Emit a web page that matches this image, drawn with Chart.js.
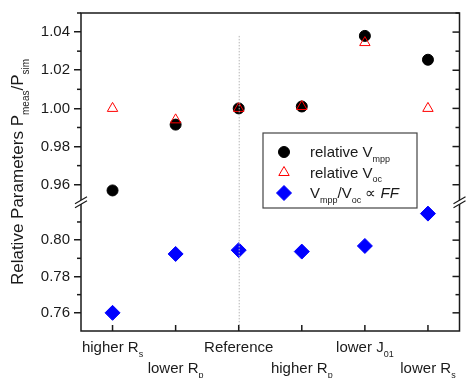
<!DOCTYPE html>
<html>
<head>
<meta charset="utf-8">
<script src="https://cdn.jsdelivr.net/npm/chart.js@4.4.1/dist/chart.umd.min.js"></script>
<style>
  html, body { margin: 0; padding: 0; background: #fff; }
  #wrap { width: 468px; height: 378px; position: relative; }
</style>
</head>
<body>
<div id="wrap"><canvas id="chart"></canvas></div>
<script>
// --- data ---
const categories = ['higher R_{s}', 'lower R_{p}', 'Reference', 'higher R_{p}', 'lower J_{01}', 'lower R_{s}'];
const relVmpp = [0.957, 0.9915, 1.000, 1.001, 1.038, 1.0255];
const relVoc  = [1.000, 0.994, 1.000, 1.001, 1.0345, 1.000];
const ffRatio = [0.760, 0.7924, 0.7945, 0.7937, 0.7968, 0.8146];
const upperTicks = [0.96, 0.98, 1.00, 1.02, 1.04];
const upperMinor = [0.95, 0.97, 0.99, 1.01, 1.03, 1.05];
const lowerTicks = [0.76, 0.78, 0.80];
const lowerMinor = [0.77, 0.79, 0.81];
const seriesNames = ['relative V_{mpp}', 'relative V_{oc}', 'V_{mpp}/V_{oc} \u221D *FF*'];
const yTitle = 'Relative Parameters P_{meas}/P_{sim}';
const refLineTop = 1.038;

const FONT = "'Liberation Sans', Arial, sans-serif";
const INK = '#1a1a1a';

// tiny markup: _{sub}  *italic*
function parseRich(str) {
    const out = [];
    const re = /_\{([^}]*)\}|\*([^*]*)\*|([^_*]+)/g;
    let m;
    while ((m = re.exec(str))) {
        if (m[1] !== undefined) out.push({ t: m[1], s: 'sub' });
        else if (m[2] !== undefined) out.push({ t: m[2], s: 'it' });
        else out.push({ t: m[3], s: '' });
    }
    return out;
}

function partFont(p, size) {
    if (p.s === 'sub') return Math.round(size * 0.6) + 'px ' + FONT;
    if (p.s === 'it') return 'italic ' + size + 'px ' + FONT;
    return size + 'px ' + FONT;
}

function richWidth(ctx, parts, size) {
    let w = 0;
    parts.forEach(p => { ctx.font = partFont(p, size); w += ctx.measureText(p.t).width; });
    return w;
}

function drawRich(ctx, str, x, y, size, align) {
    const parts = parseRich(str);
    const w = richWidth(ctx, parts, size);
    let cx = align === 'center' ? x - w / 2 : x;
    ctx.textBaseline = 'alphabetic';
    ctx.textAlign = 'left';
    parts.forEach(p => {
        ctx.font = partFont(p, size);
        const dy = p.s === 'sub' ? size * 0.33 : 0;
        ctx.fillText(p.t, cx, y + dy);
        cx += ctx.measureText(p.t).width;
    });
}

const decor = {
    id: 'decor',
    afterDatasetsDraw(chart) {
        // dotted reference line
        const { ctx, chartArea, scales } = chart;
        const x = scales.x.getPixelForValue(2);
        ctx.save();
        ctx.strokeStyle = '#b5b5b5';
        ctx.lineWidth = 1;
        ctx.setLineDash([1.5, 1.5]);
        ctx.beginPath();
        ctx.moveTo(x + 0.5, scales.y.getPixelForValue(refLineTop));
        ctx.lineTo(x + 0.5, chartArea.bottom);
        ctx.stroke();
        ctx.restore();
    },
    afterDraw(chart) {
        const { ctx, chartArea: a, scales } = chart;
        ctx.save();
        ctx.strokeStyle = INK;
        ctx.fillStyle = INK;
        ctx.lineWidth = 1.5;

        // frame
        ctx.strokeRect(a.left, a.top, a.right - a.left, a.bottom - a.top);

        // ticks: left outward minors, right inward majors + minors
        const tick = (yPix, len, side) => {
            ctx.beginPath();
            if (side === 'L') { ctx.moveTo(a.left - len, yPix); ctx.lineTo(a.left, yPix); }
            else { ctx.moveTo(a.right - len, yPix); ctx.lineTo(a.right, yPix); }
            ctx.stroke();
        };
        upperMinor.forEach(v => { const p = scales.y.getPixelForValue(v); tick(p, 4, 'L'); tick(p, 4, 'R'); });
        lowerMinor.forEach(v => { const p = scales.y2.getPixelForValue(v); tick(p, 4, 'L'); tick(p, 4, 'R'); });
        upperTicks.forEach(v => tick(scales.y.getPixelForValue(v), 7, 'R'));
        lowerTicks.forEach(v => tick(scales.y2.getPixelForValue(v), 7, 'R'));

        // bottom ticks inward + x labels staggered
        ctx.fillStyle = INK;
        categories.forEach((c, i) => {
            const xp = scales.x.getPixelForValue(i);
            ctx.beginPath();
            ctx.moveTo(xp, a.bottom);
            ctx.lineTo(xp, a.bottom - 6);
            ctx.stroke();
            drawRich(ctx, c, xp, i % 2 === 0 ? a.bottom + 21 : a.bottom + 42, 15, 'center');
        });

        // axis break marks
        const yb = scales.y.bottom;
        [a.left, a.right].forEach(xb => {
            ctx.fillStyle = '#fff';
            ctx.beginPath();
            ctx.moveTo(xb - 6, yb + 4); ctx.lineTo(xb + 6, yb - 3);
            ctx.lineTo(xb + 6, yb - 7); ctx.lineTo(xb - 6, yb);
            ctx.closePath();
            ctx.fill();
            ctx.lineWidth = 1.2;
            ctx.beginPath();
            ctx.moveTo(xb - 6, yb + 4); ctx.lineTo(xb + 6, yb - 3);
            ctx.moveTo(xb - 6, yb); ctx.lineTo(xb + 6, yb - 7);
            ctx.stroke();
        });

        // y title
        ctx.fillStyle = INK;
        ctx.save();
        ctx.translate(23, (a.top + a.bottom) / 2);
        ctx.rotate(-Math.PI / 2);
        drawRich(ctx, yTitle, 0, 0, 17, 'center');
        ctx.restore();

        // legend
        const lx = 263, ly = 133, lw = 154, lh = 75;
        ctx.fillStyle = '#fff';
        ctx.fillRect(lx, ly, lw, lh);
        ctx.strokeStyle = '#444';
        ctx.lineWidth = 1.2;
        ctx.strokeRect(lx, ly, lw, lh);
        chart.data.datasets.forEach((ds, i) => {
            const yy = ly + 19 + i * 20.5;
            ctx.fillStyle = ds.backgroundColor;
            ctx.strokeStyle = ds.borderColor;
            ctx.lineWidth = ds.borderWidth;
            Chart.helpers.drawPoint(ctx, {
                pointStyle: ds.pointStyle, rotation: 0,
                radius: ds.pointRadius, borderWidth: ds.borderWidth
            }, lx + 21, yy);
            ctx.fillStyle = INK;
            drawRich(ctx, seriesNames[i], lx + 47, yy + 5, 15, 'left');
        });
        ctx.restore();
    }
};

const ctx = document.getElementById('chart').getContext('2d');
new Chart(ctx, {
    type: 'scatter',
    data: {
        labels: categories,
        datasets: [
            {
                label: seriesNames[0],
                data: relVmpp.map((v, i) => ({ x: i, y: v })),
                yAxisID: 'y',
                pointStyle: 'circle', pointRadius: 5.5,
                backgroundColor: '#000', borderColor: '#000', borderWidth: 1,
                order: 2
            },
            {
                label: seriesNames[1],
                data: relVoc.map((v, i) => ({ x: i, y: v })),
                yAxisID: 'y',
                pointStyle: 'triangle', pointRadius: 6,
                backgroundColor: 'rgba(0,0,0,0)', borderColor: '#ff0000', borderWidth: 1,
                order: 1
            },
            {
                label: seriesNames[2],
                data: ffRatio.map((v, i) => ({ x: i, y: v })),
                yAxisID: 'y2',
                pointStyle: 'rectRot', pointRadius: 7.5,
                backgroundColor: '#0000ff', borderColor: '#0000ff', borderWidth: 1,
                order: 3
            }
        ]
    },
    options: {
        responsive: true, maintainAspectRatio: false, animation: false,
        layout: { padding: { top: 11, right: 2, left: 0, bottom: 0 } },
        plugins: { legend: { display: false }, tooltip: { enabled: false } },
        elements: { point: { hoverRadius: 0 } },
        scales: {
            x: {
                type: 'linear', min: -0.5, max: 5.5,
                grid: { display: false, drawTicks: false },
                border: { display: false },
                ticks: { display: false },
                afterFit: s => { s.height = 47; }
            },
            // lower segment is listed first: Chart.js stacks the first one at the bottom
            y2: {
                position: 'left', stack: 'v', stackWeight: 2,
                min: 0.75, max: 0.82,
                afterBuildTicks: s => { s.ticks = lowerTicks.map(v => ({ value: v })); },
                grid: { drawOnChartArea: false, drawTicks: true, tickLength: 7, tickColor: INK, lineWidth: 1.5 },
                border: { display: false },
                ticks: { color: INK, font: { family: FONT, size: 15 }, padding: 4, callback: v => v.toFixed(2) },
                afterFit: s => { s.width = 81; }
            },
            y: {
                position: 'left', stack: 'v', stackWeight: 3,
                min: 0.95, max: 1.05,
                afterBuildTicks: s => { s.ticks = upperTicks.map(v => ({ value: v })); },
                grid: { drawOnChartArea: false, drawTicks: true, tickLength: 7, tickColor: INK, lineWidth: 1.5 },
                border: { display: false },
                ticks: { color: INK, font: { family: FONT, size: 15 }, padding: 4, callback: v => v.toFixed(2) },
                afterFit: s => { s.width = 81; }
            }
        }
    },
    plugins: [decor]
});
</script>
</body>
</html>
